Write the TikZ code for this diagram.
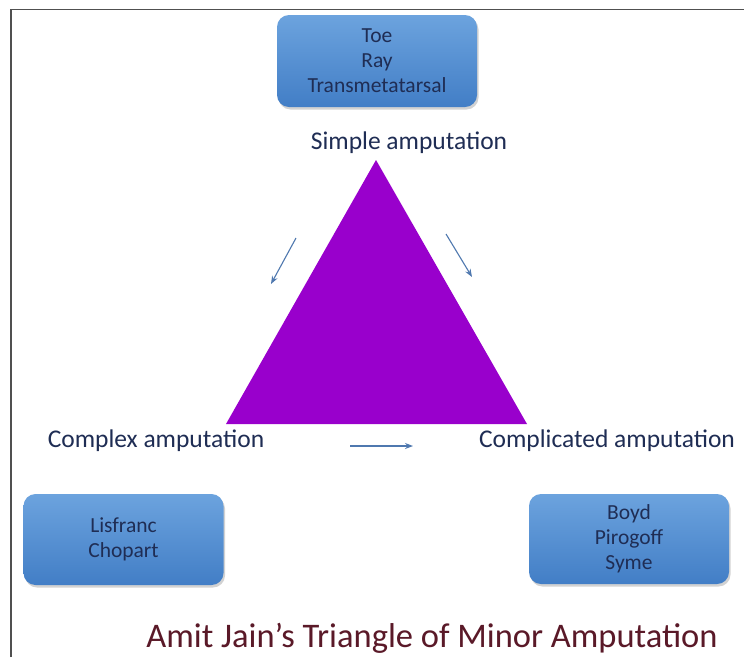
\documentclass[tikz,border=0pt]{standalone}
\usepackage{fontspec}
\setmainfont{Carlito}
\usetikzlibrary{shadows,arrows.meta}
\definecolor{navy}{RGB}{31,45,84}
\definecolor{tri}{RGB}{153,0,204}
\definecolor{arr}{RGB}{79,120,175}
\definecolor{boxtop}{RGB}{108,163,222}
\definecolor{boxbot}{RGB}{66,126,198}
\definecolor{titlec}{RGB}{90,25,40}
\tikzset{
  bluebox/.style={rounded corners=12pt, top color=boxtop, bottom color=boxbot, draw=none,
    drop shadow={shadow xshift=1.5pt, shadow yshift=-2.5pt, opacity=0.35},
    minimum width=200pt, align=center, text=navy, font=\fontsize{21.5}{25}\selectfont},
  lbl/.style={text=navy, font=\fontsize{25.5}{28}\selectfont, inner sep=0pt},
  thinarrow/.style={draw=arr, line width=1.1pt, -{Stealth[length=8pt,width=6pt]}}
}
\begin{document}
\begin{tikzpicture}[x=1pt,y=-1pt]
\useasboundingbox (0,0) rectangle (744,657);
\fill[white] (0,0) rectangle (744,657);
\draw[line width=1.5pt, draw={rgb,255:red,80;green,80;blue,80}] (11,657) -- (11,9.5) -- (744,9.5);
% boxes
\node[bluebox, minimum height=92pt] (top) at (377,61) {Toe\\Ray\\Transmetatarsal};
\node[bluebox, minimum height=91pt] (bl) at (123.5,539.5) {Lisfranc\\Chopart};
\node[bluebox, minimum height=90pt] (br) at (629,539) {Boyd\\Pirogoff\\Syme};
% triangle
\coordinate (A) at (376,160);
\coordinate (B) at (226,424);
\coordinate (C) at (527,424);
\fill[tri] (A) -- (B) -- (C) -- cycle;
% labels
\node[lbl] (simple) at (409,143) {Simple amputation};
\node[lbl] (complex) at (156,441) {Complex amputation};
\node[lbl] (compl) at (607,441) {Complicated amputation};
% arrows
\coordinate (a1s) at (296,238); \coordinate (a1e) at (271,284);
\coordinate (a2s) at (446,234); \coordinate (a2e) at (472,277);
\coordinate (a3s) at (350,446); \coordinate (a3e) at (413,446);
\draw[thinarrow] (a1s) -- (a1e);
\draw[thinarrow] (a2s) -- (a2e);
\draw[thinarrow] (a3s) -- (a3e);
% title
\node[text=titlec, font=\fontsize{34.5}{38}\selectfont, inner sep=0pt] (title) at (432,638) {Amit Jain’s Triangle of Minor Amputation};
\end{tikzpicture}
\end{document}
